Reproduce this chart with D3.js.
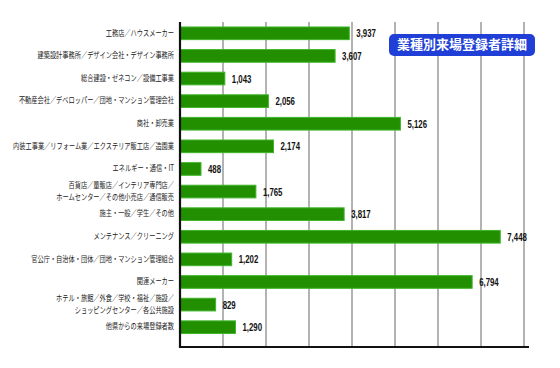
<!DOCTYPE html>
<meta charset="utf-8">
<script src="https://d3js.org/d3.v7.min.js"></script>
<style>
  body { margin: 0; background: #fff; }
</style>
<div id="chart"></div>
<script>
// categories (each entry = lines of the label)
var categories = [
  ["工務店／ハウスメーカー"],
  ["建築設計事務所／デザイン会社・デザイン事務所"],
  ["総合建設・ゼネコン／設備工事業"],
  ["不動産会社／デベロッパー／団地・マンション管理会社"],
  ["商社・卸売業"],
  ["内装工事業／リフォーム業／エクステリア販工店／造園業"],
  ["エネルギー・通信・IT"],
  ["百貨店／量販店／インテリア専門店／", "ホームセンター／その他小売店／通信販売"],
  ["施主・一般／学生／その他"],
  ["メンテナンス／クリーニング"],
  ["官公庁・自治体・団体／団地・マンション管理組合"],
  ["関連メーカー"],
  ["ホテル・旅館／外食／学校・福祉／施設／", "ショッピングセンター／各公共施設"],
  ["他県からの来場登録者数"]
];
var values = [3937, 3607, 1043, 2056, 5126, 2174, 488, 1765, 3817, 7448, 1202, 6794, 829, 1290];
var ticks = [0, 1000, 2000, 3000, 4000, 5000, 6000, 7000, 8000];
var title = "業種別来場登録者詳細";

var W = 560, H = 368;
var plotL = 180, plotR = 524, plotT = 22, plotB = 347;

var svg = d3.select("#chart").append("svg")
  .attr("width", W).attr("height", H);

var x = d3.scaleLinear().domain([0, 8000]).range([plotL, plotR]);
var y = d3.scaleBand()
  .domain(d3.range(values.length))
  .range([plotT, 338.5])
  .paddingInner(0.44)
  .paddingOuter(0.22);

// grid lines
svg.append("g").selectAll("line")
  .data(ticks.slice(1))
  .enter().append("line")
    .attr("x1", function(d) { return x(d); })
    .attr("x2", function(d) { return x(d); })
    .attr("y1", plotT)
    .attr("y2", plotB)
    .attr("stroke", "#9a9a9a")
    .attr("stroke-width", 1.5);

// bars
svg.append("g").selectAll("rect")
  .data(values)
  .enter().append("rect")
    .attr("x", x(0))
    .attr("y", function(d, i) { return y(i); })
    .attr("width", function(d) { return x(d) - x(0); })
    .attr("height", y.bandwidth())
    .attr("fill", "#228f00")
    .attr("stroke", "#3fb52a")
    .attr("stroke-width", 1);

// value labels (condensed look)
svg.append("g").selectAll("text")
  .data(values)
  .enter().append("text")
    .attr("transform", function(d, i) {
      return "translate(" + (x(d) + 7) + "," + (y(i) + y.bandwidth() / 2 + 1) + ") scale(0.68,1)";
    })
    .attr("dominant-baseline", "middle")
    .style("font-family", "'Liberation Sans', sans-serif")
    .style("font-size", "11.5px")
    .style("font-weight", "bold")
    .style("fill", "#111")
    .text(function(d) { return d3.format(",")(d); });

// category labels
var cat = svg.append("g").selectAll("text")
  .data(categories)
  .enter().append("text")
    .attr("text-anchor", "end")
    .style("font-family", "'Noto Sans CJK JP', sans-serif")
    .style("font-size", "8.4px")
    .style("fill", "#222")
    .attr("transform", function(d, i) {
      return "translate(174," + (y(i) + y.bandwidth() / 2) + ") scale(0.74,1)";
    });
cat.selectAll("tspan")
  .data(function(d) { return d; })
  .enter().append("tspan")
    .attr("x", 0)
    .attr("y", function(d, j, nodes) {
      var n = nodes.length;
      return (j - (n - 1) / 2) * 11.4;
    })
    .attr("dominant-baseline", "middle")
    .text(function(d) { return d; });

// axes lines
svg.append("line")
  .attr("x1", plotL).attr("x2", plotL)
  .attr("y1", plotT).attr("y2", plotB + 1)
  .attr("stroke", "#111").attr("stroke-width", 2.2);
svg.append("line")
  .attr("x1", plotL - 1).attr("x2", 529)
  .attr("y1", plotB).attr("y2", plotB)
  .attr("stroke", "#111").attr("stroke-width", 2.2);

// title box
var tb = svg.append("g").attr("transform", "translate(389,34)");
tb.append("rect")
  .attr("width", 146).attr("height", 22)
  .attr("rx", 5)
  .attr("fill", "#1f3fd6");
tb.append("text")
  .attr("x", 73).attr("y", 11.5)
  .attr("text-anchor", "middle")
  .attr("dominant-baseline", "middle")
  .style("font-family", "'Noto Sans CJK JP', sans-serif")
  .style("font-size", "13px")
  .style("font-weight", "bold")
  .style("fill", "#fff")
  .text(title);
</script>
